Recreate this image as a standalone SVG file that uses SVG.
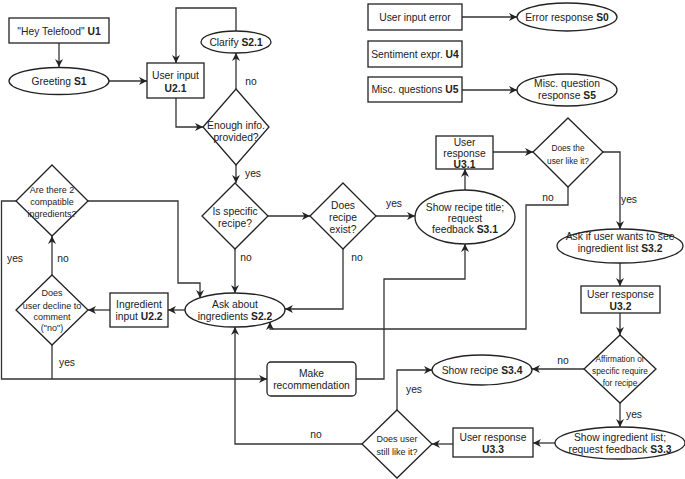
<svg xmlns="http://www.w3.org/2000/svg" width="685" height="479" viewBox="0 0 685 479">
<defs>
<marker id="ah" viewBox="0 0 10 10" refX="10" refY="5" markerWidth="8" markerHeight="8" markerUnits="userSpaceOnUse" orient="auto"><path d="M0,0 L10,5 L0,10 L3,5 z" fill="#222"/></marker>
</defs>
<style>
.n{fill:#fff;stroke:#222;stroke-width:1.3}
.c{fill:none;stroke:#333;stroke-width:1.3}
.a{marker-end:url(#ah)}
text{font-family:"Liberation Sans",Arial,sans-serif;font-size:10.3px;fill:#222;text-anchor:middle}
.s{font-size:8.3px}
.m{font-size:9px}
.b{font-weight:bold}
</style>
<rect width="685" height="479" fill="#fff"/>
<g id="connectors">
<path class="c a" d="M59,43 L59,67"/>
<path class="c a" d="M109,81 L147,81"/>
<path class="c a" d="M176,98 L176,127 L203,127"/>
<path class="c a" d="M236,89 L236,53"/>
<path class="c a" d="M236,31 L236,8 L176,8 L176,63"/>
<path class="c a" d="M236,165 L236,183"/>
<path class="c a" d="M268,216 L310,216"/>
<path class="c a" d="M235,249 L235,293"/>
<path class="c a" d="M376,216 L415,216"/>
<path class="c a" d="M343,249 L343,309 L285,309"/>
<path class="c a" d="M465,190 L465,169"/>
<path class="c a" d="M493,152 L533,152"/>
<path class="c a" d="M603,152 L620,152 L620,229"/>
<path class="c a" d="M568,187 L568,205 L526,205 L526,329 L270,329 L270,322"/>
<path class="c a" d="M620,263 L620,286"/>
<path class="c a" d="M620,313 L620,335"/>
<path class="c a" d="M584,369 L532,369"/>
<path class="c a" d="M620,403 L620,427"/>
<path class="c a" d="M555,443 L533,443"/>
<path class="c a" d="M453,444 L432,444"/>
<path class="c a" d="M397,410 L397,370 L432,370"/>
<path class="c a" d="M362,444 L235,444 L235,327"/>
<path class="c a" d="M185,310 L168,310"/>
<path class="c a" d="M110,310 L88,310"/>
<path class="c a" d="M52,275 L52,236"/>
<path class="c a" d="M88,201 L178,201 L178,283 L200,283 L200,298"/>
<path class="c a" d="M17,201 L1.5,201 L1.5,379 L267,379"/>
<path class="c" d="M52,345 L52,379"/>
<path class="c a" d="M356,379 L384,379 L384,279 L465,279 L465,244"/>
<path class="c a" d="M462,17 L517,17"/>
<path class="c a" d="M462,90 L517,90"/>
<text x="251" y="85">no</text>
<text x="253" y="177">yes</text>
<text x="246" y="261">no</text>
<text x="357" y="261">no</text>
<text x="394" y="207">yes</text>
<text x="548" y="201">no</text>
<text x="629" y="203">yes</text>
<text x="15" y="262">yes</text>
<text x="63" y="262">no</text>
<text x="67" y="366">yes</text>
<text x="563" y="364">no</text>
<text x="634" y="418">yes</text>
<text x="414" y="393">yes</text>
<text x="316" y="438">no</text>
</g>
<g id="U1"><rect class="n" x="9" y="18" width="100" height="25"/><text x="59" y="34.5">"Hey Telefood" <tspan class="b">U1</tspan></text></g>
<g id="S1"><ellipse class="n" cx="59" cy="81" rx="50" ry="13.5"/><text x="59" y="84.5">Greeting <tspan class="b">S1</tspan></text></g>
<g id="U2.1"><rect class="n" x="147" y="63" width="57" height="35"/><text x="175.5" y="78.5">User input</text><text x="175.5" y="91.5" class="b">U2.1</text></g>
<g id="S2.1"><ellipse class="n" cx="236" cy="42" rx="35" ry="11"/><text x="236" y="45.5">Clarify <tspan class="b">S2.1</tspan></text></g>
<g id="D-enough"><polygon class="n" points="236,89 269,127 236,165 203,127"/><text x="236" y="129">Enough info.</text><text x="236" y="141">provided?</text></g>
<g id="D-specific"><polygon class="n" points="235,183 268,216 235,249 202,216"/><text x="235" y="215">Is specific</text><text x="235" y="227">recipe?</text></g>
<g id="D-exist"><polygon class="n" points="343,183 376,216 343,249 310,216"/><text x="343" y="209">Does</text><text x="343" y="221">recipe</text><text x="343" y="233">exist?</text></g>
<g id="S3.1"><ellipse class="n" cx="465" cy="217" rx="50" ry="27"/><text x="465" y="210.5">Show recipe title;</text><text x="465" y="221.5">request</text><text x="465" y="232.5">feedback <tspan class="b">S3.1</tspan></text></g>
<g id="U3.1"><rect class="n" x="436" y="136" width="57" height="33"/><text x="464.5" y="145.5">User</text><text x="464.5" y="156.5">response</text><text x="464.5" y="167.5" class="b">U3.1</text></g>
<g id="D-like"><polygon class="n" points="568,118 603,152 568,187 533,152"/><text x="568" y="151" class="s">Does the</text><text x="568" y="164" class="s">user like it?</text></g>
<g id="S3.2"><ellipse class="n" cx="620" cy="246" rx="63" ry="17"/><text x="620" y="239.5">Ask if user wants to see</text><text x="620" y="251.5">ingredient list <tspan class="b">S3.2</tspan></text></g>
<g id="U3.2"><rect class="n" x="581" y="286" width="79" height="27"/><text x="620.5" y="297.5">User response</text><text x="620.5" y="309.5" class="b">U3.2</text></g>
<g id="D-affirm"><polygon class="n" points="620,335 656,369 620,403 584,369"/><text x="620" y="362" class="s">Affirmation or</text><text x="620" y="374" class="s">specific require</text><text x="620" y="386" class="s">for recipe</text></g>
<g id="S3.4"><ellipse class="n" cx="482" cy="370" rx="50" ry="15"/><text x="482" y="373.5">Show recipe <tspan class="b">S3.4</tspan></text></g>
<g id="S3.3"><ellipse class="n" cx="620" cy="443" rx="65" ry="16"/><text x="620" y="440.5">Show ingredient list;</text><text x="620" y="452.5">request feedback <tspan class="b">S3.3</tspan></text></g>
<g id="U3.3"><rect class="n" x="453" y="428" width="80" height="29"/><text x="493" y="440.5">User response</text><text x="493" y="452.5" class="b">U3.3</text></g>
<g id="D-still"><polygon class="n" points="397,410 432,444 397,478 362,444"/><text x="397" y="442" class="m">Does user</text><text x="397" y="455" class="m">still like it?</text></g>
<g id="Make-rec"><rect class="n" x="267" y="362" width="89" height="34" rx="4"/><text x="311.5" y="376.5">Make</text><text x="311.5" y="388.5">recommendation</text></g>
<g id="S2.2"><ellipse class="n" cx="235" cy="310" rx="50" ry="17"/><text x="235" y="307.5">Ask about</text><text x="235" y="319.5">ingredients <tspan class="b">S2.2</tspan></text></g>
<g id="U2.2"><rect class="n" x="110" y="293" width="58" height="34"/><text x="139" y="307.5">Ingredient</text><text x="139" y="319.5">input <tspan class="b">U2.2</tspan></text></g>
<g id="D-decline"><polygon class="n" points="52,275 88,310 52,345 16,310"/><text x="52" y="296" class="m">Does</text><text x="52" y="309" class="m">user decline to</text><text x="52" y="320" class="m">comment</text><text x="52" y="331" class="m">("no")</text></g>
<g id="D-compatible"><polygon class="n" points="52,165 88,201 52,236 16,201"/><text x="52" y="193" class="m">Are there 2</text><text x="52" y="205" class="m">compatible</text><text x="52" y="217" class="m">ingredients?</text></g>
<g id="U-err"><rect class="n" x="368" y="4" width="94" height="26"/><text x="415" y="20.5">User input error</text></g>
<g id="S0"><ellipse class="n" cx="567" cy="17" rx="50" ry="14"/><text x="567" y="20.5">Error response <tspan class="b">S0</tspan></text></g>
<g id="U4"><rect class="n" x="368" y="41" width="94" height="26"/><text x="415" y="57.5">Sentiment expr. <tspan class="b">U4</tspan></text></g>
<g id="U5"><rect class="n" x="368" y="77" width="94" height="25"/><text x="415" y="93">Misc. questions <tspan class="b">U5</tspan></text></g>
<g id="S5"><ellipse class="n" cx="567" cy="90" rx="50" ry="16"/><text x="567" y="86.5">Misc. question</text><text x="567" y="98.5">response <tspan class="b">S5</tspan></text></g>
</svg>
